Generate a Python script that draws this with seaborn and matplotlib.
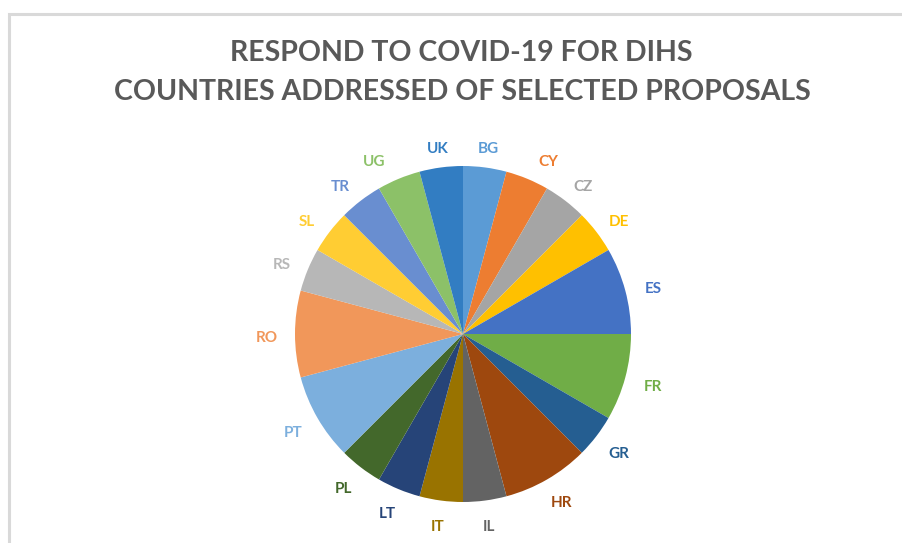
import matplotlib
matplotlib.use("Agg")
import matplotlib.pyplot as plt
import seaborn as sns

sns.set_theme(style="white")
plt.rcParams['font.family'] = ['Lato', 'DejaVu Sans']

countries = ["BG", "CY", "CZ", "DE", "ES", "FR", "GR", "HR", "IL", "IT",
             "LT", "PL", "PT", "RO", "RS", "SL", "TR", "UG", "UK"]
counts = [1, 1, 1, 1, 2, 2, 1, 2, 1, 1, 1, 1, 2, 2, 1, 1, 1, 1, 1]
colors = ["#5B9BD5", "#ED7D31", "#A5A5A5", "#FFC000", "#4472C4", "#70AD47",
          "#255E91", "#9E480E", "#636363", "#997300", "#264478", "#43682B",
          "#7CAFDD", "#F1975A", "#B7B7B7", "#FFCD33", "#698ED0", "#8CC168",
          "#327DC2"]
title_lines = ["RESPOND TO COVID-19 FOR DIHS",
               "COUNTRIES ADDRESSED OF SELECTED PROPOSALS"]

W, H = 903, 543
fig = plt.figure(figsize=(W / 100, H / 100), dpi=100)
fig.patch.set_facecolor("white")

# chart frame (light gray)
frame = plt.Rectangle((9 / W, -0.1), 1.2, (H - 14) / H + 0.1, transform=fig.transFigure,
                      fill=False, edgecolor="#D9D9D9", linewidth=2.2)
fig.add_artist(frame)

cx, cy, r = 463, 334, 168
ax = fig.add_axes([(cx - r) / W, (H - cy - r) / H, 2 * r / W, 2 * r / H])
wedges, texts = ax.pie(counts, labels=countries, colors=colors, startangle=90,
                       counterclock=False, labeldistance=1.17, radius=1.0,
                       wedgeprops=dict(linewidth=0),
                       textprops=dict(fontsize=11, fontweight="bold"))
# Excel-like label placement: slightly flattened ring, nudged down a little
nudge_x = {"CY": 0.06, "UG": -0.08, "TR": -0.02}
for t, c, name in zip(texts, colors, countries):
    t.set_color(c)
    t.set_ha("center")
    t.set_va("center")
    x, y = t.get_position()
    t.set_position((x + nudge_x.get(name, 0.0), y * 0.97 - 0.024))
ax.set_xlim(-1, 1)
ax.set_ylim(-1, 1)
ax.set_aspect("equal")
ax.axis("off")

fig.text(461 / W, 1 - 53 / H, title_lines[0], ha="center", va="center",
         fontsize=20.5, fontweight="bold", color="#595959")
fig.text(462 / W, 1 - 92 / H, title_lines[1], ha="center", va="center",
         fontsize=20.5, fontweight="bold", color="#595959")

fig.savefig("out.png", dpi=100, facecolor="white")
